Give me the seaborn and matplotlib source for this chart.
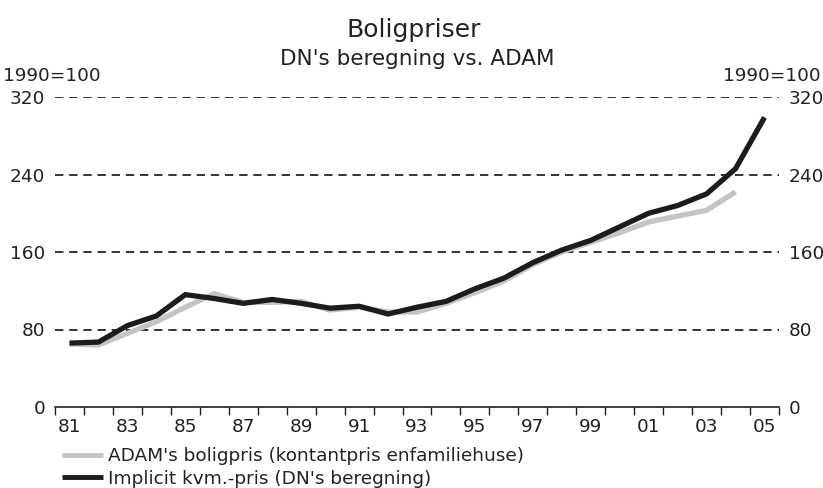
import numpy as np
import pandas as pd
import seaborn as sns
import matplotlib.pyplot as plt
from matplotlib.ticker import FixedLocator

# values (index 1990 = 100)
years = list(range(1981, 2006))
year_labels = ['81', '83', '85', '87', '89', '91', '93', '95', '97', '99', '01', '03', '05']
adam = [65, 64, 76, 88, 103, 117, 108, 108, 109, 100, 103, 98, 98, 107, 118,
        130, 147, 160, 170, 180, 191, 197, 203, 222, np.nan]
dn = [66, 67, 84, 94, 116, 112, 107, 111, 107, 102, 104, 96, 103, 109, 122,
      133, 149, 162, 172, 186, 200, 208, 220, 246, 299]
series_names = ["ADAM's boligpris (kontantpris enfamiliehuse)",
                "Implicit kvm.-pris (DN's beregning)"]
y_ticks = [0, 80, 160, 240, 320]

sns.set_theme(style="white")
plt.rcParams['font.family'] = ['DejaVu Sans']
text_color = '#222222'
fs = 13.3

df = pd.DataFrame({
    'pos': list(range(len(years))) * 2,
    'value': adam + dn,
    'series': [series_names[0]] * len(years) + [series_names[1]] * len(years),
})

fig = plt.figure(figsize=(8.23, 4.88), dpi=100)
ax = fig.add_axes([55 / 823, 81 / 488, 724 / 823, 310 / 488])

# dashed grid lines
for v in y_ticks[1:]:
    ax.axhline(v, color='#111111', lw=1.2, ls=(0, (5, 3.5)), zorder=1)

sns.lineplot(data=df, x='pos', y='value', hue='series',
             palette=['#c4c4c4', '#1c1c1c'], linewidth=3.8, ax=ax, zorder=3,
             solid_capstyle='butt')

ax.set_xlim(-0.5, len(years) - 0.5)
ax.set_ylim(0, 320)
ax.set_xlabel('')
ax.set_ylabel('')

for s in ['left', 'right', 'top']:
    ax.spines[s].set_visible(False)
ax.spines['bottom'].set_color('#222222')
ax.spines['bottom'].set_linewidth(1.2)

# year labels at slot centres, ticks at slot boundaries
ax.set_xticks(range(0, len(years), 2))
ax.set_xticklabels(year_labels, fontsize=fs, color=text_color)
ax.xaxis.set_minor_locator(FixedLocator(np.arange(-0.5, len(years), 1)))
ax.tick_params(axis='x', which='major', length=0, pad=8)
ax.tick_params(axis='x', which='minor', length=6, width=1, color='#222222', direction='out', bottom=True)

ax.set_yticks(y_ticks)
ax.set_yticklabels([str(v) for v in y_ticks], fontsize=fs, color=text_color)
ax.tick_params(axis='y', length=0, pad=7, left=True, right=True, labelleft=True, labelright=True)

# legend below the chart
handles, labels = ax.get_legend_handles_labels()
ax.legend_.remove()
for h in handles:
    h.set_solid_capstyle('butt')
    h.set_linewidth(3.5)
fig.legend(handles, labels, loc='upper left', bbox_to_anchor=(62 / 823, 1 - 447 / 488),
           frameon=False, fontsize=fs, handlelength=2.2, handletextpad=0.3,
           labelspacing=0.25, borderaxespad=0, borderpad=0, labelcolor=text_color)

fig.text(414 / 823, 1 - 30 / 488, 'Boligpriser', ha='center', va='center', fontsize=18, color=text_color)
fig.text(417 / 823, 1 - 59 / 488, "DN's beregning vs. ADAM", ha='center', va='center', fontsize=15.5, color=text_color)
fig.text(3 / 823, 1 - 76 / 488, '1990=100', ha='left', va='center', fontsize=fs, color=text_color)
fig.text(821 / 823, 1 - 76 / 488, '1990=100', ha='right', va='center', fontsize=fs, color=text_color)

fig.savefig('out.png', dpi=100)
